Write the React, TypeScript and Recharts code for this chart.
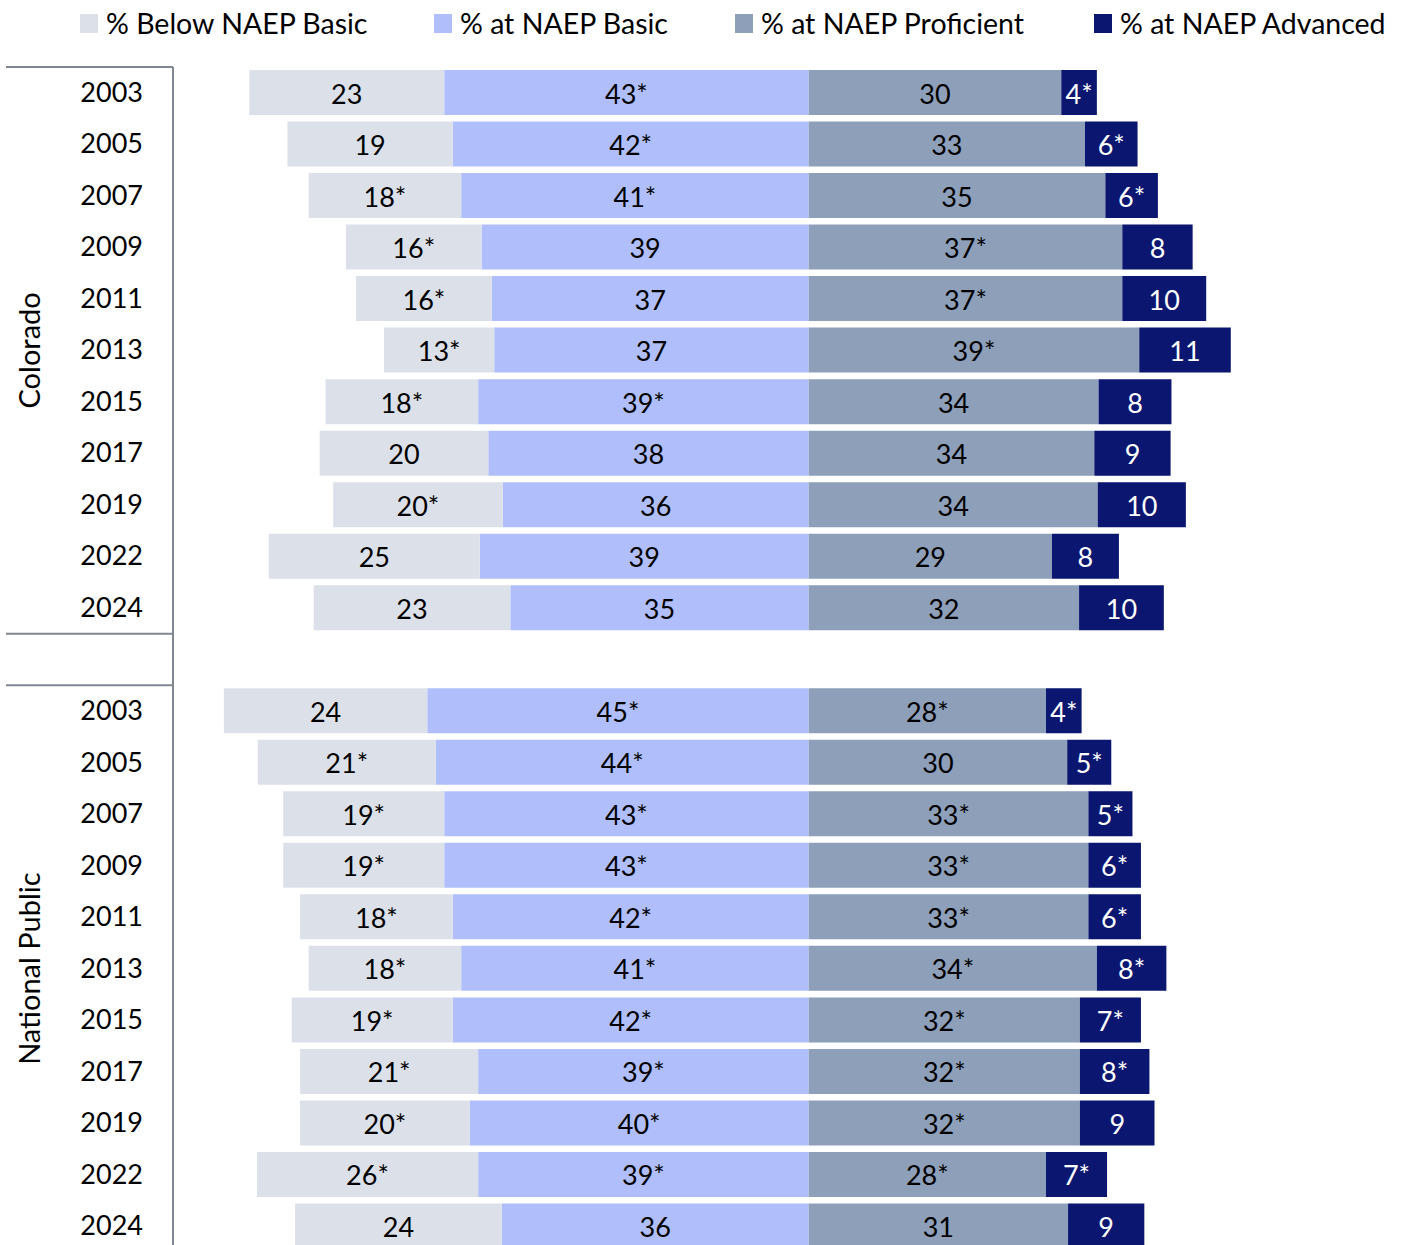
import { BarChart, Bar, XAxis, YAxis, LabelList } from 'recharts';

const years = ['2003', '2005', '2007', '2009', '2011', '2013', '2015', '2017', '2019', '2022', '2024'];

// Colorado (bar lengths, labels as printed)
const coBelow = [23.0, 19.5, 18.0, 16.0, 16.0, 13.0, 18.0, 19.9, 20.0, 24.9, 23.2];
const coBelowLabel = ['23', '19', '18*', '16*', '16*', '13*', '18*', '20', '20*', '25', '23'];
const coBasic = [43.0, 42.0, 41.0, 38.6, 37.4, 37.1, 39.0, 37.8, 36.1, 38.8, 35.2];
const coBasicLabel = ['43*', '42*', '41*', '39', '37', '37', '39*', '38', '36', '39', '35'];
const coProf = [29.8, 32.6, 35.0, 37.0, 37.0, 39.0, 34.2, 33.7, 34.1, 28.7, 31.9];
const coProfLabel = ['30', '33', '35', '37*', '37*', '39*', '34', '34', '34', '29', '32'];
const coAdv = [4.2, 6.2, 6.2, 8.3, 9.9, 10.8, 8.6, 9.0, 10.4, 7.9, 10.0];
const coAdvLabel = ['4*', '6*', '6*', '8', '10', '11', '8', '9', '10', '8', '10'];

// National Public
const npBelow = [24.0, 21.0, 19.0, 19.0, 18.0, 18.0, 19.0, 21.0, 20.0, 26.1, 24.4];
const npBelowLabel = ['24', '21*', '19*', '19*', '18*', '18*', '19*', '21*', '20*', '26*', '24'];
const npBasic = [45.0, 44.0, 43.0, 43.0, 42.0, 41.0, 42.0, 39.0, 40.0, 39.0, 36.2];
const npBasicLabel = ['45*', '44*', '43*', '43*', '42*', '41*', '42*', '39*', '40*', '39*', '36'];
const npProf = [28.0, 30.5, 33.0, 33.0, 33.0, 34.0, 32.0, 32.0, 32.0, 28.0, 30.6];
const npProfLabel = ['28*', '30', '33*', '33*', '33*', '34*', '32*', '32*', '32*', '28*', '31'];
const npAdv = [4.2, 5.2, 5.2, 6.2, 6.2, 8.2, 7.2, 8.2, 8.8, 7.2, 9.0];
const npAdvLabel = ['4*', '5*', '5*', '6*', '6*', '8*', '7*', '8*', '9', '7*', '9'];

const COLORS = {
  below: '#DCE1E9',
  basic: '#B0BFFB',
  prof: '#8E9FBA',
  adv: '#0A1670',
};

const FONT = 'Lato, sans-serif';

const buildGroup = (group: string, below: number[], belowL: string[], basic: number[], basicL: string[],
  prof: number[], profL: string[], adv: number[], advL: string[]) =>
  years.map((year, i) => ({
    key: `${group}-${year}`,
    year,
    group,
    pos: i,
    below: -below[i],
    belowLabel: belowL[i],
    basic: -basic[i],
    basicLabel: basicL[i],
    prof: prof[i],
    profLabel: profL[i],
    adv: adv[i],
    advLabel: advL[i],
  }));

const rows = [
  ...buildGroup('Colorado', coBelow, coBelowLabel, coBasic, coBasicLabel, coProf, coProfLabel, coAdv, coAdvLabel),
  { key: 'gap', year: '', group: '', pos: -1 },
  ...buildGroup('National Public', npBelow, npBelowLabel, npBasic, npBasicLabel, npProf, npProfLabel, npAdv, npAdvLabel),
];

const W = 1402;
const H = 1252;
const TOP = 67;
const AXIS_W = 173;
const BAND = (H - TOP) / rows.length;

const YearTick = (props: any) => {
  const { x, y, payload } = props;
  const row: any = rows.find((r) => r.key === payload.value);
  if (!row) return null;
  const last = row.pos === years.length - 1;
  const mid = row.pos === Math.floor(years.length / 2);
  return (
    <g>
      <text x={x - 30} y={y} dy={9} textAnchor="end" fontSize={27} fontFamily={FONT} fill="#000">
        {row.year}
      </text>
      {row.pos === 0 && (
        <line x1={6} x2={x} y1={y - BAND / 2} y2={y - BAND / 2} stroke="#7F8790" strokeWidth={2} />
      )}
      {last && (
        <line x1={6} x2={x} y1={y + BAND / 2} y2={y + BAND / 2} stroke="#7F8790" strokeWidth={2} />
      )}
      {mid && (
        <text
          x={30}
          y={y}
          transform={`rotate(-90, 30, ${y})`}
          dy={10}
          textAnchor="middle"
          fontSize={29}
          fontFamily={FONT}
          fill="#000"
        >
          {row.group}
        </text>
      )}
    </g>
  );
};

const BarLabel = (props: any) => {
  const { x, y, width, height, value, textColor } = props;
  if (value === undefined || value === null || value === '') return null;
  return (
    <text
      x={x + width / 2}
      y={y + height / 2}
      dy={11}
      textAnchor="middle"
      fontSize={27}
      fontFamily={FONT}
      fill={textColor}
    >
      {value}
    </text>
  );
};

const legendItems = [
  { name: '% Below NAEP Basic', color: COLORS.below, left: 80 },
  { name: '% at NAEP Basic', color: COLORS.basic, left: 434 },
  { name: '% at NAEP Proficient', color: COLORS.prof, left: 735 },
  { name: '% at NAEP Advanced', color: COLORS.adv, left: 1094 },
];

export default function App() {
  return (
    <div
      style={{
        position: 'fixed',
        left: 0,
        top: 0,
        width: W,
        height: 1245,
        overflow: 'hidden',
        background: '#fff',
        fontFamily: FONT,
      }}
    >
      {legendItems.map((item) => (
        <div
          key={item.name}
          style={{ position: 'absolute', left: item.left, top: 5, display: 'flex', alignItems: 'center', fontSize: 28.5, lineHeight: '36px', color: '#000', whiteSpace: 'nowrap' }}
        >
          <span style={{ display: 'inline-block', width: 18, height: 19, background: item.color, marginRight: 8 }} />
          {item.name}
        </div>
      ))}
      <BarChart
        width={W}
        height={H}
        data={rows}
        layout="vertical"
        stackOffset="sign"
        barSize={45}
        margin={{ top: TOP, right: 0, bottom: 0, left: 0 }}
      >
        <XAxis type="number" domain={[-75, 70]} hide />
        <YAxis
          type="category"
          dataKey="key"
          width={AXIS_W}
          interval={0}
          tickLine={false}
          tickSize={0}
          tickMargin={0}
          axisLine={{ stroke: '#7F8790', strokeWidth: 2 }}
          tick={<YearTick />}
        />
        <Bar dataKey="basic" stackId="a" fill={COLORS.basic} isAnimationActive={false}>
          <LabelList dataKey="basicLabel" content={<BarLabel textColor="#000" />} />
        </Bar>
        <Bar dataKey="below" stackId="a" fill={COLORS.below} isAnimationActive={false}>
          <LabelList dataKey="belowLabel" content={<BarLabel textColor="#000" />} />
        </Bar>
        <Bar dataKey="prof" stackId="a" fill={COLORS.prof} isAnimationActive={false}>
          <LabelList dataKey="profLabel" content={<BarLabel textColor="#000" />} />
        </Bar>
        <Bar dataKey="adv" stackId="a" fill={COLORS.adv} isAnimationActive={false}>
          <LabelList dataKey="advLabel" content={<BarLabel textColor="#fff" />} />
        </Bar>
      </BarChart>
    </div>
  );
}
